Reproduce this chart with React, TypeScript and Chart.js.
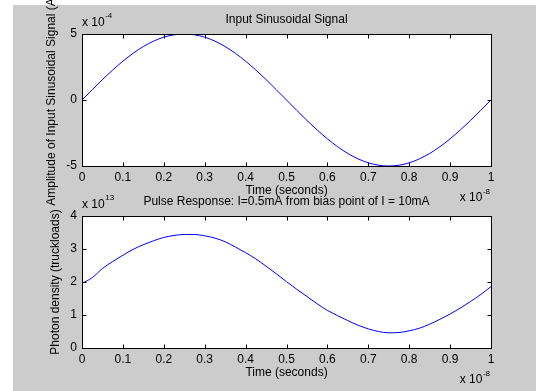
import React, { useEffect, useRef } from "react";
import { Chart, registerables } from "chart.js";

Chart.register(...registerables);

// Time axis (x 10^-8 seconds)
const time = [
  0, 0.025, 0.05, 0.075, 0.1, 0.125, 0.15, 0.175, 0.2, 0.225,
  0.25, 0.275, 0.3, 0.325, 0.35, 0.375, 0.4, 0.425, 0.45, 0.475,
  0.5, 0.525, 0.55, 0.575, 0.6, 0.625, 0.65, 0.675, 0.7, 0.725,
  0.75, 0.775, 0.8, 0.825, 0.85, 0.875, 0.9, 0.925, 0.95, 0.975, 1,
];

// Input sinusoidal signal amplitude (x 10^-4 A)
const inputSignal = [
  0, 0.78, 1.55, 2.27, 2.94, 3.54, 4.05, 4.46, 4.76, 4.94,
  5.0, 4.94, 4.76, 4.46, 4.05, 3.54, 2.94, 2.27, 1.55, 0.78,
  0, -0.78, -1.55, -2.27, -2.94, -3.54, -4.05, -4.46, -4.76, -4.94,
  -5.0, -4.94, -4.76, -4.46, -4.05, -3.54, -2.94, -2.27, -1.55, -0.78, 0,
];

// Photon density (x 10^13 truckloads)
const photonDensity = [
  1.96, 2.13, 2.41, 2.62, 2.81, 2.99, 3.13, 3.25, 3.35, 3.41,
  3.44, 3.44, 3.4, 3.33, 3.22, 3.06, 2.89, 2.7, 2.48, 2.25,
  2.01, 1.78, 1.56, 1.34, 1.14, 0.98, 0.83, 0.69, 0.58, 0.5,
  0.46, 0.47, 0.52, 0.6, 0.72, 0.87, 1.03, 1.21, 1.41, 1.62, 1.86,
];

const timeTicks = [0, 0.1, 0.2, 0.3, 0.4, 0.5, 0.6, 0.7, 0.8, 0.9, 1];
const timeTickLabels = ["0", "0.1", "0.2", "0.3", "0.4", "0.5", "0.6", "0.7", "0.8", "0.9", "1"];
const inputTicks = [-5, 0, 5];
const inputTickLabels = ["-5", "0", "5"];
const photonTicks = [0, 1, 2, 3, 4];
const photonTickLabels = ["0", "1", "2", "3", "4"];

const W = 536;
const H = 391;
const FONT = '"Liberation Sans", Arial, Helvetica, sans-serif';

type Panel = {
  values: number[];
  yMin: number;
  yMax: number;
  yTicks: number[];
  yTickLabels: string[];
  title: string;
  yLabel: string;
  yExp: string;
  xExp: string;
  top: number;
  bottom: number;
  yLabelX: number;
};

const LEFT = 82;
const RIGHT = 491;
const XSCALE_H = 30;

const panels: Panel[] = [
  {
    values: inputSignal,
    yMin: -5,
    yMax: 5,
    yTicks: inputTicks,
    yTickLabels: inputTickLabels,
    title: "Input Sinusoidal Signal",
    yLabel: "Amplitude of Input Sinusoidal Signal (A)",
    yExp: "-4",
    xExp: "-8",
    top: 34,
    bottom: 166,
    yLabelX: 52,
  },
  {
    values: photonDensity,
    yMin: 0,
    yMax: 4,
    yTicks: photonTicks,
    yTickLabels: photonTickLabels,
    title: "Pulse Response: I=0.5mA from bias point of I = 10mA",
    yLabel: "Photon density (truckloads)",
    yExp: "13",
    xExp: "-8",
    top: 216,
    bottom: 348,
    yLabelX: 56,
  },
];

function lookup(ticks: number[], labels: string[], v: number) {
  const i = ticks.findIndex((t) => Math.abs(t - v) < 1e-9);
  return i >= 0 ? labels[i] : "";
}

function makeDecor(p: Panel) {
  return {
    id: "matlabDecor",
    beforeDatasetsDraw(chart: any) {
      const { ctx, chartArea: a } = chart;
      ctx.save();
      ctx.fillStyle = "#ffffff";
      ctx.fillRect(a.left, a.top, a.right - a.left + 1, a.bottom - a.top + 1);
      ctx.restore();
    },
    afterDraw(chart: any) {
      const { ctx, chartArea: a, scales } = chart;
      const xs = scales.x;
      const ys = scales.y;
      ctx.save();
      ctx.strokeStyle = "#000";
      ctx.lineWidth = 1;
      ctx.strokeRect(a.left + 0.5, a.top + 0.5, a.right - a.left, a.bottom - a.top);
      const TL = 4;
      ctx.beginPath();
      for (const v of timeTicks) {
        const px = Math.round(xs.getPixelForValue(v)) + 0.5;
        ctx.moveTo(px, a.bottom + 0.5);
        ctx.lineTo(px, a.bottom + 0.5 - TL);
        ctx.moveTo(px, a.top + 0.5);
        ctx.lineTo(px, a.top + 0.5 + TL);
      }
      for (const v of p.yTicks) {
        const py = Math.round(ys.getPixelForValue(v)) + 0.5;
        ctx.moveTo(a.left + 0.5, py);
        ctx.lineTo(a.left + 0.5 + TL, py);
        ctx.moveTo(a.right + 0.5, py);
        ctx.lineTo(a.right + 0.5 - TL, py);
      }
      ctx.stroke();

      ctx.fillStyle = "#000";
      ctx.font = `12px ${FONT}`;
      ctx.textAlign = "center";
      ctx.textBaseline = "middle";
      const cx = (a.left + a.right) / 2;
      ctx.fillText(p.title, cx, a.top - 14);
      ctx.fillText("Time (seconds)", cx, a.bottom + 24.5);

      ctx.save();
      ctx.translate(p.yLabelX, (a.top + a.bottom) / 2);
      ctx.rotate(-Math.PI / 2);
      ctx.fillText(p.yLabel, 0, 0);
      ctx.restore();

      // y exponent
      ctx.textAlign = "left";
      ctx.font = `12px ${FONT}`;
      const base = "x 10";
      const bw = ctx.measureText(base).width;
      ctx.fillText(base, a.left, a.top - 11);
      ctx.font = `8px ${FONT}`;
      ctx.fillText(p.yExp, a.left + bw + 0.5, a.top - 18);

      // x exponent
      ctx.font = `8px ${FONT}`;
      const ew = ctx.measureText(p.xExp).width;
      ctx.font = `12px ${FONT}`;
      const gx = a.right - 1 - ew - 0.5 - bw;
      ctx.fillText(base, gx, a.bottom + 32);
      ctx.font = `8px ${FONT}`;
      ctx.fillText(p.xExp, gx + bw + 0.5, a.bottom + 26);
      ctx.restore();
    },
  };
}

function PanelChart({ p }: { p: Panel }) {
  const ref = useRef<HTMLCanvasElement>(null);
  useEffect(() => {
    const canvas = ref.current!;
    const chart = new Chart(canvas, {
      type: "line",
      data: {
        datasets: [
          {
            data: time.map((t, i) => ({ x: t, y: p.values[i] })),
            borderColor: "#0000ff",
            borderWidth: 1,
            pointRadius: 0,
            fill: false,
            cubicInterpolationMode: "monotone",
          },
        ],
      },
      options: {
        responsive: false,
        animation: false,
        devicePixelRatio: 1,
        events: [],
        layout: {
          padding: { left: 0, top: p.top, right: W - RIGHT, bottom: H - p.bottom - XSCALE_H },
        },
        plugins: {
          legend: { display: false },
          title: { display: false },
          tooltip: { enabled: false },
        },
        scales: {
          x: {
            type: "linear",
            min: 0,
            max: 1,
            grid: { display: false, drawTicks: false },
            border: { display: false },
            afterBuildTicks: (s: any) => {
              s.ticks = timeTicks.map((v) => ({ value: v }));
            },
            afterFit: (s: any) => {
              s.height = XSCALE_H;
            },
            ticks: {
              color: "#000",
              padding: 4,
              maxRotation: 0,
              autoSkip: false,
              font: { family: FONT, size: 12 },
              callback: (v: any) => lookup(timeTicks, timeTickLabels, Number(v)),
            },
          },
          y: {
            type: "linear",
            min: p.yMin,
            max: p.yMax,
            grid: { display: false, drawTicks: false },
            border: { display: false },
            afterBuildTicks: (s: any) => {
              s.ticks = p.yTicks.map((v) => ({ value: v }));
            },
            afterFit: (s: any) => {
              s.width = LEFT;
            },
            ticks: {
              color: "#000",
              padding: 5,
              autoSkip: false,
              font: { family: FONT, size: 12 },
              callback: (v: any) => lookup(p.yTicks, p.yTickLabels, Number(v)),
            },
          },
        },
      },
      plugins: [makeDecor(p)],
    } as any);
    return () => chart.destroy();
  }, [p]);
  return (
    <canvas
      ref={ref}
      width={W}
      height={H}
      style={{ position: "absolute", left: 0, top: 0, width: W, height: H }}
    />
  );
}

export default function App() {
  return (
    <div style={{ position: "absolute", left: 0, top: 0, width: W, height: H, background: "#fff", overflow: "hidden" }}>
      <div style={{ position: "absolute", left: 13, top: 5, width: W - 13, height: H - 5, background: "#cccccc" }} />
      {panels.map((p, i) => (
        <PanelChart key={i} p={p} />
      ))}
    </div>
  );
}
